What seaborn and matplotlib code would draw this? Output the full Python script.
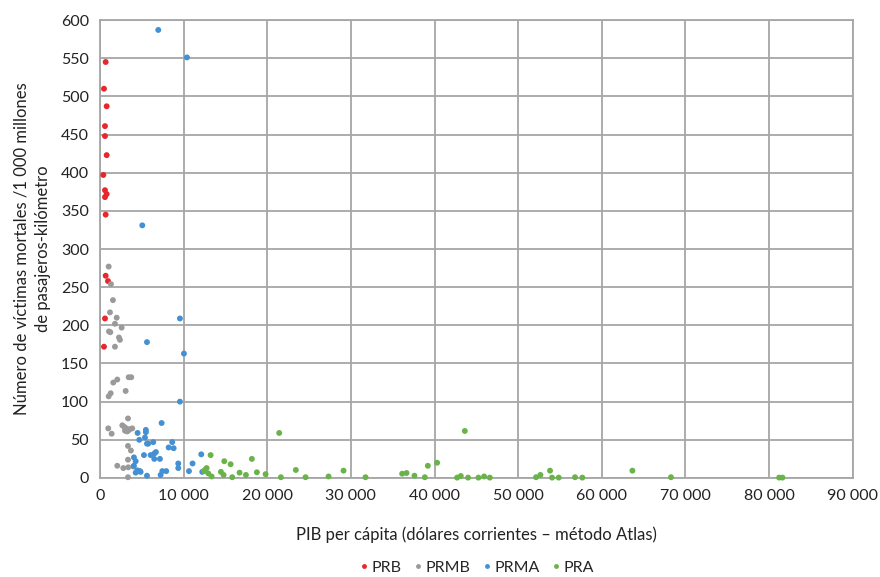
import matplotlib
matplotlib.use("Agg")
import matplotlib.pyplot as plt
from matplotlib.ticker import FuncFormatter, MultipleLocator
import seaborn as sns
import pandas as pd

# GDP per capita (USD, Atlas method) and fatalities per 1 000 million passenger-km
prb_x = [680, 480, 800, 600, 600, 800, 400, 600, 800, 600, 680, 680, 960, 600, 480]
prb_y = [545, 510, 487, 461, 448, 423, 397, 377, 372, 368, 345, 265, 258, 209, 172]

prmb_x = [1040, 1310, 1550, 1195, 2000, 1790, 2590, 1075, 1235, 2270, 2390, 1790,
          3430, 3740, 2070, 1590, 3070, 1280, 1040, 3350, 990, 1395, 2670, 2900,
          3140, 3310, 3380, 3590, 3860, 2990, 3230, 3350, 3700, 3350, 2070, 2790,
          3380, 3980, 3350]
prmb_y = [277, 254, 233, 217, 210, 202, 197, 192, 191, 184, 181, 172,
          132, 132, 129, 125, 114, 111, 107, 78, 65, 58, 69, 67,
          65, 63, 62, 64, 65, 62, 61, 42, 36, 24, 16, 13,
          14, 15, 1]

prma_x = [6970, 10400, 5060, 9560, 5620, 10040, 9560, 7370, 4500, 5490, 5490, 5380,
          4700, 6370, 5620, 5770, 8640, 8210, 8810, 6690, 6490, 6060, 5260, 4060,
          4270, 6490, 7170, 9360, 9360, 4060, 4460, 4620, 4780, 4270, 4860, 5620,
          7450, 7920, 7250, 10640, 11070, 12110, 12230]
prma_y = [587, 551, 331, 209, 178, 163, 100, 72, 59, 63, 60, 53,
          50, 47, 45, 45, 47, 40, 39, 34, 32, 30, 30, 27,
          22, 25, 25, 19, 13, 16, 10, 9, 9, 7, 8, 3,
          9, 9, 4, 9, 19, 31, 8]

pra_x = [13230, 12750, 12550, 12430, 12950, 13350, 14860, 15620, 14460, 14780, 15810,
         16690, 17450, 18160, 18760, 19800, 21430, 21630, 23420, 24580, 27330, 29120,
         31750, 36130, 36650, 37600, 38840, 39200, 40310, 43620, 42700, 43140, 44010,
         45250, 45930, 46610, 52140, 52660, 53810, 54050, 54850, 56800, 57670, 63660,
         68270, 81200, 81600]
pra_y = [30, 13, 10.5, 9, 6, 2, 22, 18, 8, 4, 1,
         7, 4, 25, 7.5, 5, 59, 1, 10.5, 1, 2, 9.6,
         1, 5.6, 6.5, 3, 1, 16, 20, 61.6, 0.5, 2.6, 0.5,
         0.5, 2, 0.5, 1, 4, 9.6, 0.5, 0.5, 1, 0.5, 9.6,
         1, 0.5, 0.5]

groups = ["PRB", "PRMB", "PRMA", "PRA"]
colors = ["#E8262B", "#9A9A9A", "#4390D4", "#6AB34A"]

df = pd.concat([
    pd.DataFrame({"pib": prb_x, "victimas": prb_y, "grupo": "PRB"}),
    pd.DataFrame({"pib": prmb_x, "victimas": prmb_y, "grupo": "PRMB"}),
    pd.DataFrame({"pib": prma_x, "victimas": prma_y, "grupo": "PRMA"}),
    pd.DataFrame({"pib": pra_x, "victimas": pra_y, "grupo": "PRA"}),
], ignore_index=True)

sns.set_theme(style="white")
plt.rcParams["font.family"] = ["Lato", "DejaVu Sans"]

fig = plt.figure(figsize=(8.8, 5.77), dpi=100)
ax_pos = [0.1136, 0.1716, 0.8554, 0.7937]
ax = fig.add_axes(ax_pos)

sns.scatterplot(data=df, x="pib", y="victimas", hue="grupo", hue_order=groups,
                palette=colors, s=18, linewidth=0, ax=ax, legend=False,
                clip_on=False, zorder=3)

ax.set_xlim(0, 90000)
ax.set_ylim(0, 600)
ax.xaxis.set_major_locator(MultipleLocator(10000))
ax.yaxis.set_major_locator(MultipleLocator(50))
ax.xaxis.set_major_formatter(FuncFormatter(lambda v, p: f"{int(v):,}".replace(",", " ")))
ax.yaxis.set_major_formatter(FuncFormatter(lambda v, p: f"{int(v)}"))

grid_col = "#A6A6A6"
ax.grid(True, color=grid_col, linewidth=1.3)
ax.set_axisbelow(True)
for side in ["left", "right", "top", "bottom"]:
    ax.spines[side].set_color(grid_col)
    ax.spines[side].set_linewidth(1.3)
ax.tick_params(axis="both", length=0, labelsize=11.5, colors="#222222", pad=8)

ax.set_xlabel("PIB per cápita (dólares corrientes – método Atlas)",
              fontsize=12, color="#222222", labelpad=17)
ax.set_ylabel("Número de víctimas mortales /1 000 millones\nde pasajeros-kilómetro",
              fontsize=12, color="#222222", labelpad=7, linespacing=1.4)

handles = [plt.Line2D([], [], marker="o", linestyle="", markersize=3.5,
                      markerfacecolor=c, markeredgewidth=0) for c in colors]
fig.legend(handles, groups, loc="center",
           bbox_to_anchor=(ax_pos[0] + ax_pos[2] / 2, 0.016),
           ncol=4, frameon=False, fontsize=11.5, handletextpad=0.1,
           columnspacing=0.7, handlelength=0.7)

fig.savefig("out.png", dpi=100)
